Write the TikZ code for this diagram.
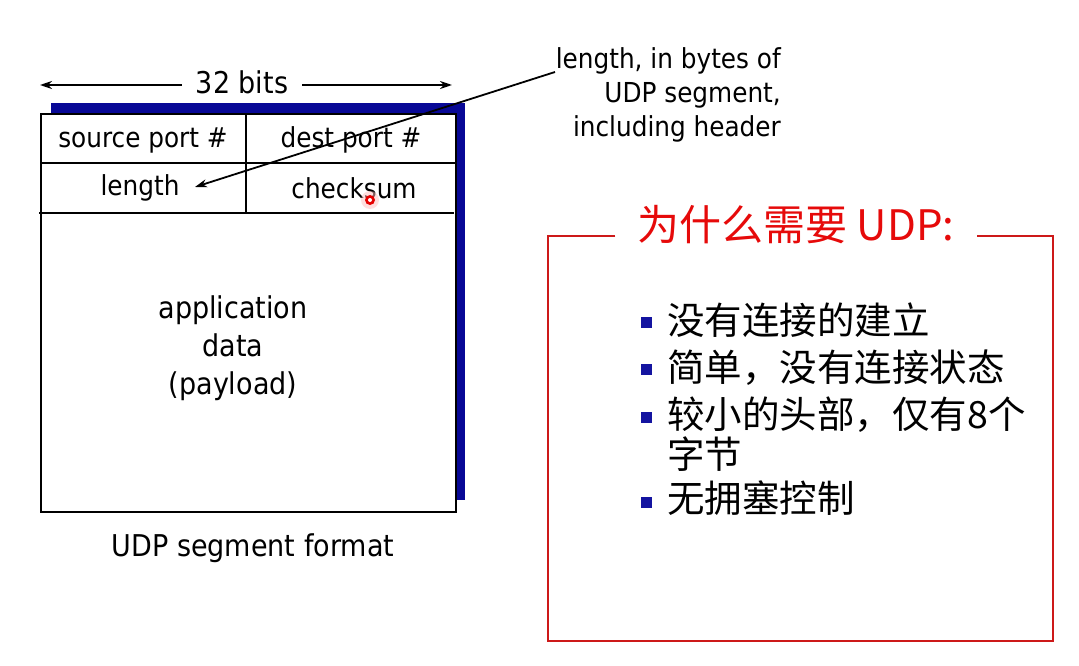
\documentclass[tikz,border=0pt]{standalone}
\usepackage{fontspec}
\usetikzlibrary{arrows.meta}
\newfontfamily\tah[FakeStretch=0.9]{DejaVu Sans}
\newfontfamily\cjk{Noto Sans CJK SC}
\definecolor{navy}{RGB}{8,8,150}
\definecolor{boxred}{RGB}{205,25,25}
\definecolor{titlered}{RGB}{230,10,10}
\definecolor{bulletblue}{RGB}{20,20,160}
\begin{document}
\begin{tikzpicture}[x=1pt,y=-1pt,
  field/.style={inner sep=0pt,font=\tah\fontsize{27.5}{34}\selectfont},
  body/.style={inner sep=0pt,align=center,font=\tah\fontsize{30}{38}\selectfont},
  arr/.style={-{Stealth[length=12pt,width=8pt]},line width=1.8pt},
  rule/.style={line width=2.5pt},
  cn/.style={inner sep=0pt,anchor=west,font=\cjk\fontsize{37.5}{39}\selectfont},
  sq/.style={fill=bulletblue,minimum size=11pt,inner sep=0pt}
]
\useasboundingbox (0,0) rectangle (1079,666);
\fill[white] (0,0) rectangle (1079,666);

% segment frame with its blue shadow
\fill[navy] (51,103) rectangle (465,500);
\fill[white] (41,114) rectangle (456,512);
\draw[rule] (41,114) rectangle (456,512);
\draw[rule] (41,163) -- (456,163);
\draw[rule] (39,213) -- (454,213);
\draw[rule] (246,114) -- (246,213);

% header fields
\node[field] (src) at (143,140) {source port \#};
\node[field] (dst) at (351,140) {dest port \#};
\node[field] (len) at (140,188) {length};
\node[field] (chk) at (354,188) {checksum};
\node[body] (payload) at (233,348) {application\\data\\(payload)};
\node[body] (caption) at (253,548) {UDP segment format};

% width marker
\node[body,inner xsep=14pt] (bits) at (242,82) {32 bits};
\coordinate (bitsL) at (40,85);
\coordinate (bitsR) at (452,85);
\draw[arr] (bits.west |- bitsL) -- (bitsL);
\draw[arr] (bits.east |- bitsR) -- (bitsR);

% annotation of the length field
\node[field,align=right,anchor=east] (note) at (781,95) {length, in bytes of\\UDP segment,\\including header};
\coordinate (noteFoot) at (555,72);
\coordinate (lenTip) at (195,187);
\draw[arr] (noteFoot) -- (lenTip);

% pointer dot
\fill[red!25,opacity=0.5] (370,200) circle (9pt);
\fill[red!90!black] (370,200) circle (5pt);
\fill[white] (370,200) circle (2pt);

% reasons box
\node[inner xsep=22pt,inner ysep=0pt,text=titlered,font=\cjk\fontsize{42}{44}\selectfont] (title) at (796,225) {为什么需要 UDP:};
\coordinate (bTL) at (548,236);
\coordinate (bTR) at (1053,236);
\coordinate (bBL) at (548,641);
\coordinate (bBR) at (1053,641);
\draw[boxred,line width=2.2pt] (bTL -| title.west) -- (bTL) -- (bBL) -- (bBR) -- (bTR) -- (bTR -| title.east);

\node[cn] (r1) at (667,320) {没有连接的建立};
\node[cn] (r2) at (667,368) {简单，没有连接状态};
\node[cn] (r3) at (667,415) {较小的头部，仅有8个};
\node[cn] (r3b) at (667,454) {字节};
\node[cn] (r4) at (667,498) {无拥塞控制};
\node[sq] (b1) at (646,322) {};
\node[sq] (b2) at (646,369) {};
\node[sq] (b3) at (646,417) {};
\node[sq] (b4) at (646,502) {};
\end{tikzpicture}
\end{document}
